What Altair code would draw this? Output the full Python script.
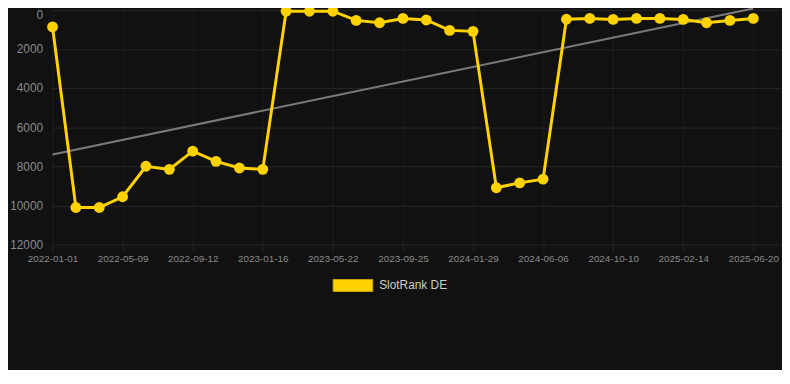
import altair as alt
import pandas as pd

dates = [
    "2022-01-01", "2022-02-13", "2022-03-27", "2022-05-09", "2022-06-20", "2022-08-01",
    "2022-09-12", "2022-10-24", "2022-12-05", "2023-01-16", "2023-02-27", "2023-04-10",
    "2023-05-22", "2023-07-03", "2023-08-14", "2023-09-25", "2023-11-06", "2023-12-18",
    "2024-01-29", "2024-03-11", "2024-04-23", "2024-06-06", "2024-07-18", "2024-08-29",
    "2024-10-10", "2024-11-21", "2025-01-03", "2025-02-14", "2025-03-28", "2025-05-09",
    "2025-06-20",
]
ranks = [
    875, 10110, 10110, 9560, 8000, 8160,
    7230, 7750, 8090, 8160, 70, 70,
    70, 540, 660, 440, 520, 1050,
    1100, 9100, 8850, 8660, 480, 440,
    490, 440, 440, 490, 660, 540,
    440,
]
series_name = "SlotRank DE"
y_ticks = [0, 2000, 4000, 6000, 8000, 10000, 12000]
x_label_step = 3

GOLD = "#FFD200"

df = pd.DataFrame({
    "idx": list(range(len(dates))),
    "date": dates,
    "rank": ranks,
    "series": [series_name] * len(dates),
})

label_expr = "[" + ",".join(f"'{d}'" for d in dates) + "][round(datum.value)]"
n = len(dates) - 1

x_enc = alt.X(
    "idx:Q",
    scale=alt.Scale(domain=[0, n * 737 / 708], nice=False, zero=False),
    axis=alt.Axis(
        values=list(range(0, len(dates), x_label_step)),
        labelExpr=label_expr,
        title=None,
        grid=True,
        gridColor="#1c1c1c",
        tickColor="#262626",
        tickSize=7,
        labelPadding=2,
        labelFontSize=10,
        labelColor="#8a8a8a",
        labelFont="Liberation Sans",
        domain=False,
        labelFlush=False,
        labelOverlap=False,
    ),
)
y_enc = alt.Y(
    "rank:Q",
    scale=alt.Scale(domain=[0, 12000], reverse=True, nice=False),
    axis=alt.Axis(
        values=y_ticks,
        format="d",
        title=None,
        grid=True,
        gridColor="#262626",
        ticks=False,
        labelPadding=10,
        labelFontSize=12,
        labelColor="#8a8a8a",
        labelFont="Liberation Sans",
        labelBaseline=alt.condition("datum.value == 0", alt.value("top"), alt.value("middle")),
        domain=False,
    ),
)

base = alt.Chart(df)

trend = base.transform_regression("idx", "rank", extent=[0, n]).mark_line(
    color="#7a7a7a", strokeWidth=2
).encode(x=x_enc, y=y_enc)

line = base.mark_line(color=GOLD, strokeWidth=3).encode(x=x_enc, y=y_enc)

points = base.mark_point(filled=True, size=120, opacity=1).encode(
    x=x_enc,
    y=y_enc,
    color=alt.Color(
        "series:N",
        scale=alt.Scale(range=[GOLD]),
        legend=alt.Legend(
            title=None,
            orient="none",
            legendX=283,
            legendY=258,
            symbolType="M-1,-0.3L1,-0.3L1,0.3L-1,0.3Z",
            symbolSize=1600,
            symbolStrokeColor="#c8a400",
            symbolStrokeWidth=1,
            symbolOpacity=1,
            labelFontSize=12,
            labelColor="#cccccc",
            labelFont="Liberation Sans",
            labelOffset=6,
        ),
    ),
)

chart = (
    alt.layer(trend, line, points)
    .properties(
        width=737,
        height=237,
        autosize=alt.AutoSizeParams(type="none"),
        padding={"left": 45, "top": 0, "right": 0, "bottom": 125},
        background="#111111",
    )
    .configure_view(stroke=None)
)

chart.save("out.html", embed_options={"renderer": "svg", "actions": False})
